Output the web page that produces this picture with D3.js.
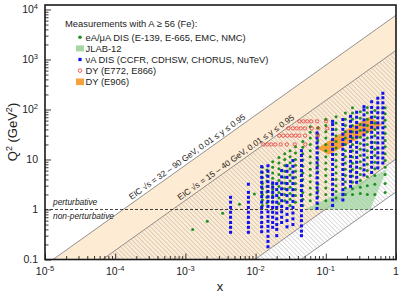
<!DOCTYPE html>
<html><head><meta charset="utf-8">
<script src="https://cdn.jsdelivr.net/npm/d3@7"></script>
<style>
body{margin:0;background:#fff;}
svg{display:block;font-family:"Liberation Sans",Arial,sans-serif;}
</style></head><body>
<svg id="chart" width="399" height="298"></svg>
<script>
// EIC kinematic bands: Q2 = y * s * x
var eicWide = [32, 90];      // sqrt(s) GeV
var eicNarrow = [15, 40];
var yRange = [0.01, 0.95];

var xTicks = [1e-5, 1e-4, 1e-3, 1e-2, 1e-1, 1];
var xTickLabels = [["10","-5"],["10","-4"],["10","-3"],["10","-2"],["10","-1"],["1",""]];
var yTicks = [0.1, 1, 10, 100, 1000, 10000];
var yTickLabels = [["0.1",""],["1",""],["10",""],["10","2"],["10","3"],["10","4"]];

// eA / muA DIS : single points at low x
var disLowX = [[0.00127,0.40],[0.00205,0.58],[0.0034,0.84],[0.0059,1.27],[0.0096,2.05]];
// eA / muA DIS columns: x, list of Q2
var disCols = [
  [0.0125,[1.2,1.55,2,2.6,3.3,4.3,5.5,7]],
  [0.0145,[1.35,1.75,2.25,2.9,3.7,4.8,6.2]],
  [0.0175,[1.1,1.45,1.9,2.5,3.2,4.2,5.4,7,9]],
  [0.0215,[1.3,1.7,2.2,2.9,3.8,5,6.5,8.5,11]],
  [0.026,[1.5,2,2.6,3.4,4.4,5.8,7.6,10,13]],
  [0.031,[1.2,1.6,2.1,2.8,3.7,4.9,6.5,8.6,11.3,15]],
  [0.037,[1.4,1.9,2.5,3.3,4.4,5.8,7.7,10,13.5,18]],
  [0.047,[1.2,1.6,2.2,3,4,5.4,7.3,9.8,13,17.5,23]],
  [0.06,[1.5,2,2.7,3.6,4.8,6.4,8.5,11.3,15,20,27,35,45]],
  [0.077,[1.3,1.8,2.4,3.2,4.3,5.7,7.6,10,13.5,18,24,32,43]],
  [0.1,[1.5,2,2.7,3.6,4.8,6.4,8.5,11.3,15,20,27,36,48,64]],
  [0.14,[1.7,2.3,3,4,5.4,7.2,9.6,12.8,17,23,30,40,54,72]],
  [0.19,[2,2.7,3.6,4.8,6.4,8.5,11.3,15,20,27,36,48,64,85]],
  [0.24,[2,2.6,3.5,4.7,6.3,8.4,11.2,15,20,27,36,48,64,85,108]],
  [0.31,[2.1,2.8,3.8,5,6.7,9,12,16,21,28,38,50,67,90]],
  [0.39,[2,3,4.5,6,8,11,15,20,27,36,48,64,86,110]],
  [0.5,[2,3.2,4.8,6.5,8.8,12,16,22,30,40,54,72,96]],
  [0.7,[2.2,3.3,5,7,9.5,13,18,24,33,45,61,82,108]]
];
// nuA DIS columns
var nuCols = [
  [0.0044,[0.35,0.44,0.55,0.7,0.88,1.1,1.4,1.75]],
  [0.0079,[0.35,0.44,0.55,0.7,0.88,1.1,1.4,1.75,2.2,3.2]],
  [0.0122,[0.36,0.45,0.55,0.7,0.88,1.1,1.4,1.8,2.2,2.8,3.5,4.4,5.6,7.2]],
  [0.015,[0.18,0.23,0.29,0.37,0.46,0.58,0.72,0.9,1.15,1.45,1.8,2.3,2.9,3.6,4.6,5.8,7.5]],
  [0.0175,[0.44,0.55,0.7,0.88,1.1,1.4,1.75,2.2,2.8,3.4]],
  [0.02,[0.3,0.4,0.5,0.65,0.85,1.1,1.4,1.9,2.5,3.3]],
  [0.0235,[0.55,0.7,0.9,1.15,1.5,2,2.6,3.4,4.5,6]],
  [0.028,[0.45,0.6,0.8,1.05,1.4,1.9,2.5,3.3,4.4,5.8,7.5]],
  [0.034,[0.5,0.65,0.85,1.1,1.45,1.9,2.5,3.3,4.3,5.6,7.3,9.5]],
  [0.045,[0.3,0.37,0.47,0.6,0.75,0.95,1.2,1.5,1.9,2.4,3,3.8,4.8,6,7.6,9.6,12,15]],
  [0.075,[1.05,1.35,1.7,2.15,2.7,3.4,4.3,5.4,6.8,8.6,10.8,13.6,17,21.5,27,34]],
  [0.125,[1.2,1.55,2,2.5,3.2,4,5,6.3,8,10,12.6,16,20,25,32,40,50,58]],
  [0.175,[1.55,2,2.5,3.2,4,5,6.3,8,10,12.6,16,20,25,32,40,50,63]],
  [0.225,[2.9,3.6,4.6,5.8,7.3,9.2,11.5,14.5,18,23,29,36,46,58,73]],
  [0.275,[3.5,4.4,5.5,7,8.8,11,14,17.5,22,28,35,44,55,70,88]],
  [0.35,[4.9,6.2,7.8,9.8,12.3,15.5,19.5,24.5,31,39,49,62,78,98,114]],
  [0.45,[5.5,7,8.8,11,14,17.5,22,28,35,44,55,70,88,110,143]],
  [0.55,[6.8,8.6,10.8,13.6,17,21.5,27,34,43,54,68,86,108,136,168]],
  [0.65,[8.5,10.7,13.5,17,21.4,27,34,43,54,68,86,108,136,172,211]]
];
// DY E772/E866 rows: Q2, list of x
var dyRows = [
  [20,[0.0129,0.0147,0.0167,0.0191,0.0228,0.0278,0.0361,0.0511]],
  [30,[0.0218,0.0248,0.0283,0.0323,0.0368,0.0419,0.0506,0.0767]],
  [42,[0.0292,0.0338,0.0385,0.0439,0.0506,0.063,0.0782,0.105]],
  [58,[0.0419,0.0478,0.0545,0.0621,0.075,0.1007]]
];
// outlines of JLAB-12 and DY E906 regions (x, Q2)
var jlabArea = [[0.05,1],[0.74,6.3],[0.43,1]];
var e906Area = [[0.075,16.5],[0.2,40],[0.42,72],[0.64,50],[0.3,27],[0.11,12.5]];

var legendItems = ["eA/\u03bcA DIS (E-139, E-665, EMC, NMC)","JLAB-12","\u03bdA DIS (CCFR, CDHSW, CHORUS, NuTeV)","DY (E772, E866)","DY (E906)"];

var svg = d3.select("#chart");
var L = 45, R = 396, T = 5, B = 259.5;
var x = d3.scaleLog().domain([1e-5, 1]).range([L, R]);
var y = d3.scaleLog().domain([0.1, 12300]).range([B, T]);

var defs = svg.append("defs");
defs.append("clipPath").attr("id","clip").append("rect")
    .attr("x",L).attr("y",T).attr("width",R-L).attr("height",B-T);
var pat = defs.append("pattern").attr("id","hatch").attr("patternUnits","userSpaceOnUse")
    .attr("width",3.2).attr("height",3.2).attr("patternTransform","rotate(-45)");
pat.append("line").attr("x1",0).attr("y1",0).attr("x2",0).attr("y2",3.2)
    .attr("stroke","#959595").attr("stroke-width",0.65);

var plot = svg.append("g").attr("clip-path","url(#clip)");

function band(c1, c2) {
  // polygon between Q2 = c1*x (upper) and Q2 = c2*x (lower)
  var q0 = 0.1;
  return [[q0/c1,q0],[1,c1],[1,c2],[q0/c2,q0]];
}
var line = d3.line().x(function(d){return x(d[0]);}).y(function(d){return y(d[1]);});

var cWideTop = yRange[1]*eicWide[1]*eicWide[1];
var cWideBot = yRange[0]*eicWide[0]*eicWide[0];
var cNarTop = yRange[1]*eicNarrow[1]*eicNarrow[1];
var cNarBot = yRange[0]*eicNarrow[0]*eicNarrow[0];

plot.append("path").attr("d", line(band(cWideTop,cWideBot))+"Z").attr("fill","#fdebd3");
plot.append("path").attr("d", line(band(cNarTop,cNarBot))+"Z").attr("fill","url(#hatch)");
[cWideTop,cNarTop,cWideBot,cNarBot].forEach(function(c){
  plot.append("path").attr("d", line([[0.1/c,0.1],[1,c]]))
      .attr("stroke","#777").attr("stroke-width",0.8).attr("fill","none");
});

// pert / non-pert line
plot.append("line").attr("x1",L).attr("x2",R).attr("y1",y(1)).attr("y2",y(1))
    .attr("stroke","#111").attr("stroke-width",0.8).attr("stroke-dasharray","3,2");

plot.append("path").attr("d", line(jlabArea)+"Z").attr("fill","#9fd39f").attr("opacity",0.75);
plot.append("path").attr("d", line(e906Area)+"Z").attr("fill","#f7a03c");

var disPts = disLowX.slice();
disCols.forEach(function(c){ c[1].forEach(function(q){ disPts.push([c[0],q]); }); });
var nuPts = [];
nuCols.forEach(function(c){ c[1].forEach(function(q){ nuPts.push([c[0],q]); }); });
var dyPts = [];
dyRows.forEach(function(r){ r[1].forEach(function(v){ dyPts.push([v,r[0]]); }); });

plot.selectAll(".dis").data(disPts).enter().append("circle")
    .attr("cx",function(d){return x(d[0]);}).attr("cy",function(d){return y(d[1]);})
    .attr("r",1.5).attr("fill","#1f8f1f");
plot.selectAll(".nu").data(nuPts).enter().append("rect")
    .attr("x",function(d){return x(d[0])-1.5;}).attr("y",function(d){return y(d[1])-1.5;})
    .attr("width",3).attr("height",3).attr("fill","#1010f0");
plot.selectAll(".dy").data(dyPts).enter().append("circle")
    .attr("cx",function(d){return x(d[0]);}).attr("cy",function(d){return y(d[1]);})
    .attr("r",1.7).attr("fill","none").attr("stroke","#e8383a").attr("stroke-width",0.8);

// band labels
var ang = Math.atan2(y(10)-y(1), x(1e-4)-x(1e-5))*180/Math.PI;
function bandLabel(xs, c, txt) {
  svg.append("text").attr("transform","translate("+x(xs)+","+y(c*xs)+") rotate("+ang+")")
     .attr("dy",-3).attr("font-size",8.4).attr("fill","#222").text(txt);
}
bandLabel(1.8e-4, cWideTop, "EIC \u221As = 32 \u2013 90 GeV, 0.01 \u2264 y \u2264 0.95");
bandLabel(8.9e-4, cNarTop, "EIC \u221As = 15 \u2013 40 GeV, 0.01 \u2264 y \u2264 0.95");

svg.append("text").attr("x",53).attr("y",205).attr("font-size",8.4).attr("font-style","italic").attr("fill","#222").text("perturbative");
svg.append("text").attr("x",53).attr("y",219).attr("font-size",8.4).attr("font-style","italic").attr("fill","#222").text("non-perturbative");

// axes ticks
function minors(lo, hi) {
  var out = [];
  for (var e = lo; e < hi; e++) for (var k = 2; k <= 9; k++) out.push(k*Math.pow(10,e));
  return out;
}
var xMinor = minors(-5, 0), yMinor = minors(-1, 4);
svg.append("g").attr("transform","translate(0,"+B+")")
   .call(d3.axisBottom(x).tickValues(xTicks).tickSize(-6).tickFormat(""));
svg.append("g").attr("transform","translate(0,"+B+")")
   .call(d3.axisBottom(x).tickValues(xMinor).tickSize(-3.5).tickFormat(""));
svg.append("g").attr("transform","translate("+L+",0)")
   .call(d3.axisLeft(y).tickValues(yTicks).tickSize(-6).tickFormat(""));
svg.append("g").attr("transform","translate("+L+",0)")
   .call(d3.axisLeft(y).tickValues(yMinor.filter(function(v){return v<12300;})).tickSize(-3.5).tickFormat(""));
svg.selectAll(".domain").remove();
svg.selectAll(".tick line").attr("stroke","#222").attr("stroke-width",0.9);

svg.append("rect").attr("x",L).attr("y",T).attr("width",R-L).attr("height",B-T)
   .attr("fill","none").attr("stroke","#1a1a1a").attr("stroke-width",1.6);

// tick labels
xTicks.forEach(function(v,i){
  var t = svg.append("text").attr("x",x(v)).attr("y",275).attr("text-anchor","middle")
     .attr("font-size",10.5).attr("fill","#222");
  t.append("tspan").text(xTickLabels[i][0]);
  if (xTickLabels[i][1]) t.append("tspan").attr("dy",-4).attr("font-size",7.5).text(xTickLabels[i][1]);
});
yTicks.forEach(function(v,i){
  var t = svg.append("text").attr("x",38).attr("y",y(v)+3.8).attr("text-anchor","end")
     .attr("font-size",10.5).attr("fill","#222");
  t.append("tspan").text(yTickLabels[i][0]);
  if (yTickLabels[i][1]) t.append("tspan").attr("dy",-4).attr("font-size",7.5).text(yTickLabels[i][1]);
});

// axis titles
svg.append("text").attr("x",220).attr("y",291).attr("text-anchor","middle").attr("font-size",13).attr("fill","#222").text("x");
var yt = svg.append("text").attr("transform","translate(17,132) rotate(-90)").attr("text-anchor","middle")
   .attr("font-size",13).attr("fill","#222");
yt.append("tspan").text("Q");
yt.append("tspan").attr("dy",-5).attr("font-size",9).text("2");
yt.append("tspan").attr("dy",5).text(" (GeV");
yt.append("tspan").attr("dy",-5).attr("font-size",9).text("2");
yt.append("tspan").attr("dy",5).text(")");

// legend
svg.append("text").attr("x",65).attr("y",26.5).attr("font-size",9.4).attr("fill","#222")
   .text("Measurements with A \u2265 56 (Fe):");
var lg = svg.selectAll(".lg").data(legendItems).enter().append("g")
   .attr("transform",function(d,i){return "translate(80,"+(37.3+i*11.1)+")";});
lg.append("text").attr("x",5.5).attr("y",3.3).attr("font-size",9.4).attr("fill","#222").text(function(d){return d;});
lg.filter(function(d,i){return i===0;}).append("circle").attr("r",1.8).attr("fill","#1f8f1f");
lg.filter(function(d,i){return i===1;}).append("rect").attr("x",-4).attr("y",-3).attr("width",8).attr("height",6).attr("fill","#a7d7a7");
lg.filter(function(d,i){return i===2;}).append("rect").attr("x",-1.6).attr("y",-1.6).attr("width",3.2).attr("height",3.2).attr("fill","#1010f0");
lg.filter(function(d,i){return i===3;}).append("circle").attr("r",1.8).attr("fill","none").attr("stroke","#e8383a").attr("stroke-width",0.8);
lg.filter(function(d,i){return i===4;}).append("rect").attr("x",-4).attr("y",-3.2).attr("width",8).attr("height",6.6).attr("fill","#f7a03c");
</script></body></html>
